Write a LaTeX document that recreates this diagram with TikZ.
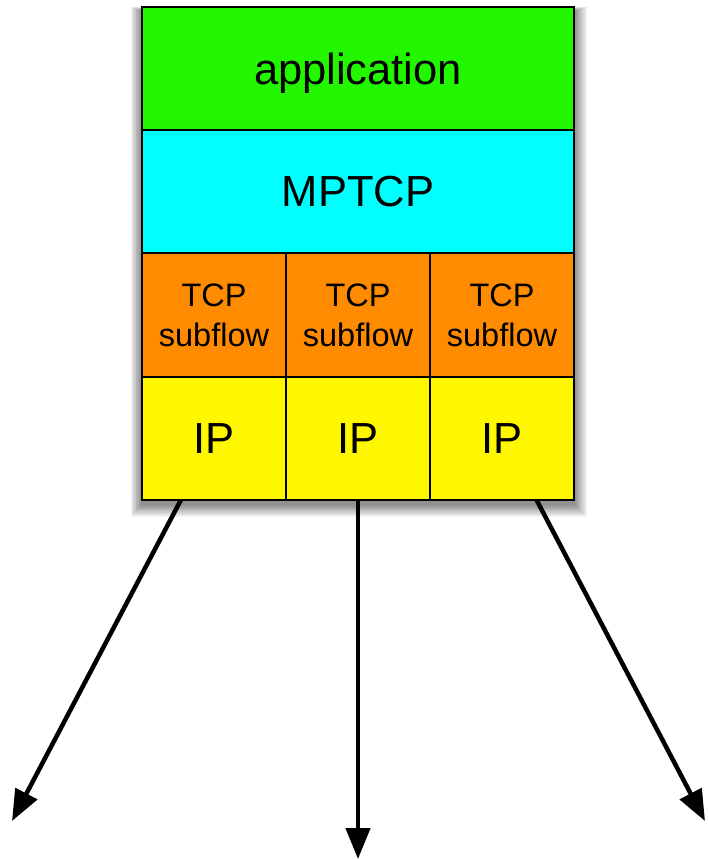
\documentclass[tikz,border=0pt]{standalone}
\usepackage{fontspec}
\setmainfont{Liberation Sans}
\usetikzlibrary{arrows.meta,calc}
\definecolor{appgreen}{RGB}{34,247,0}
\definecolor{mpcyan}{RGB}{0,255,255}
\definecolor{tcporange}{RGB}{255,140,0}
\definecolor{ipyellow}{RGB}{255,247,0}
\begin{document}
\begin{tikzpicture}[x=1pt,y=-1pt,
  cell/.style={draw=black,line width=1.5pt,inner sep=0pt,outer sep=0pt,
               align=center,text=black},
  big/.style={font=\fontsize{43.5}{48}\selectfont},
  small/.style={font=\fontsize{32.5}{40}\selectfont},
  wide/.style={cell,big,minimum width=432pt,minimum height=123pt},
  narrow/.style={cell,minimum width=144pt,minimum height=123pt},
  flow/.style={line width=4.5pt,-{Triangle[length=31pt,width=24pt]}}]
\useasboundingbox (0,0) rectangle (707,859);

% soft drop shadow behind the stack
\foreach \i in {1,...,14}
  \fill[black,opacity=0.04] (142-\i*0.8,7+4-\i*0.3) rectangle (574+\i*0.9,500+4+\i*0.9);

% protocol layers
\node[wide,fill=appgreen,text depth=0pt] (app) at (358,68.5) {application};
\node[wide,fill=mpcyan] (mptcp) at (358,191.5) {MPTCP};

\node[narrow,fill=tcporange,small] (tcp1) at (214,315) {TCP\\subflow};
\node[narrow,fill=tcporange,small] (tcp2) at (358,315) {TCP\\subflow};
\node[narrow,fill=tcporange,small] (tcp3) at (502,315) {TCP\\subflow};

\node[narrow,fill=ipyellow,big] (ip1) at (214,438.5) {IP};
\node[narrow,fill=ipyellow,big] (ip2) at (358,438.5) {IP};
\node[narrow,fill=ipyellow,big] (ip3) at (502,438.5) {IP};

% outgoing paths
\coordinate (s1) at ($(ip1.south west)!0.27!(ip1.south east)$);
\coordinate (s2) at (ip2.south);
\coordinate (s3) at ($(ip3.south west)!0.74!(ip3.south east)$);
\coordinate (e1) at (12,821);
\coordinate (e2) at (358,859);
\coordinate (e3) at (705,821);

\draw[flow] (s1) -- (e1);
\draw[flow] (s2) -- (e2);
\draw[flow] (s3) -- (e3);
\end{tikzpicture}
\end{document}
